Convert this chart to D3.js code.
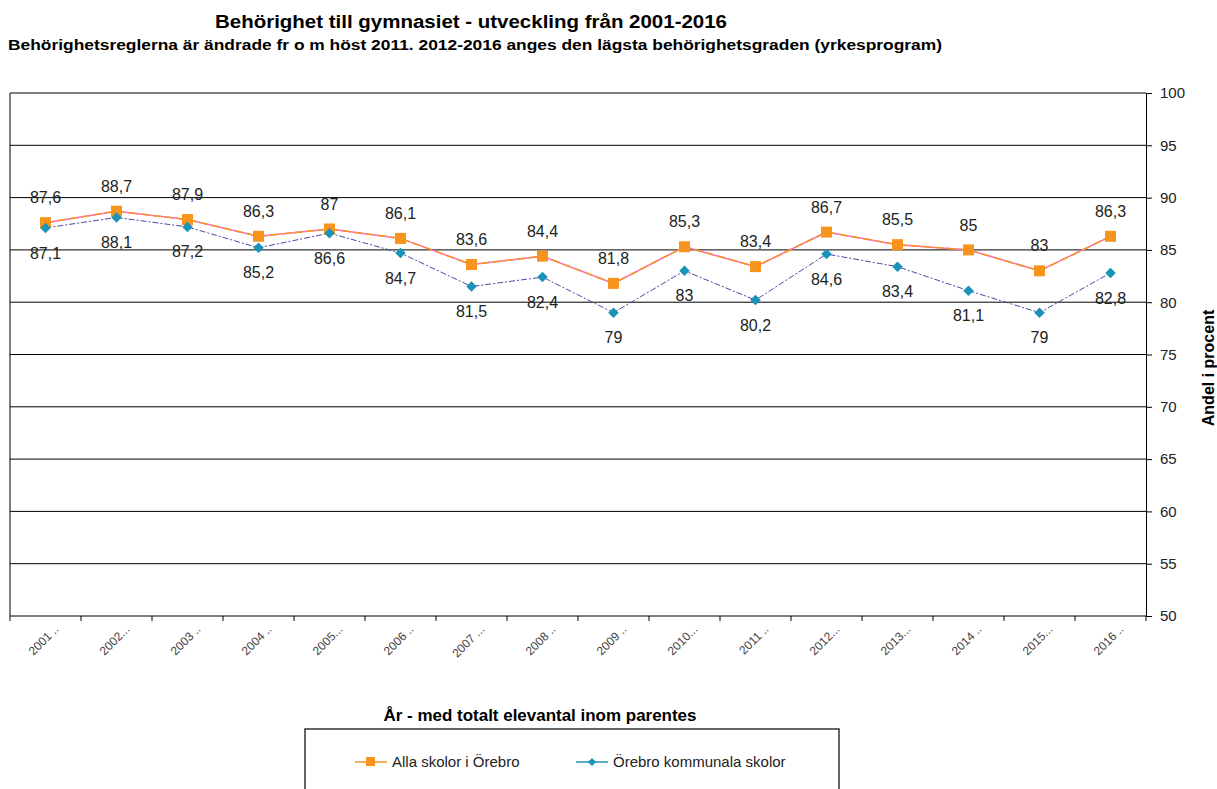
<!DOCTYPE html>
<html>
<head>
<meta charset="utf-8">
<script src="https://cdn.jsdelivr.net/npm/d3@7"></script>
<style>
  body { margin: 0; background: #fff; }
  svg { display: block; font-family: "Liberation Sans", Arial, sans-serif; }
</style>
</head>
<body>
<svg id="chart" width="1217" height="789"></svg>
<script>
// chart data
const years = ["2001", "2002", "2003", "2004", "2005", "2006", "2007", "2008",
  "2009", "2010", "2011", "2012", "2013", "2014", "2015", "2016"];
const yearLabels = ["2001 ..", "2002...", "2003 ..", "2004 ..", "2005...", "2006 ..",
  "2007 ...", "2008 ..", "2009 ..", "2010...", "2011 ..", "2012...", "2013...",
  "2014 ..", "2015...", "2016 .."];
const allaSkolor = [87.6, 88.7, 87.9, 86.3, 87, 86.1, 83.6, 84.4, 81.8, 85.3, 83.4, 86.7, 85.5, 85, 83, 86.3];
const kommunala = [87.1, 88.1, 87.2, 85.2, 86.6, 84.7, 81.5, 82.4, 79, 83, 80.2, 84.6, 83.4, 81.1, 79, 82.8];
const yTicks = [50, 55, 60, 65, 70, 75, 80, 85, 90, 95, 100];

const svg = d3.select("#chart");
const plot = { left: 10, right: 1146, top: 93, bottom: 616 };

const x = d3.scaleBand().domain(years).range([plot.left, plot.right]);
const y = d3.scaleLinear().domain([50, 100]).range([plot.bottom, plot.top]);

const orange = "#f7941d";
const blue = "#1b93b8";

// titles
svg.append("text")
  .attr("x", 471).attr("y", 28)
  .attr("text-anchor", "middle")
  .style("font-size", "18px").style("font-weight", "bold")
  .attr("textLength", 512).attr("lengthAdjust", "spacingAndGlyphs")
  .text("Behörighet till gymnasiet - utveckling från 2001-2016");
svg.append("text")
  .attr("x", 8).attr("y", 50)
  .style("font-size", "14px").style("font-weight", "bold")
  .attr("textLength", 934).attr("lengthAdjust", "spacingAndGlyphs")
  .text("Behörighetsreglerna är ändrade fr o m höst 2011. 2012-2016 anges den lägsta behörighetsgraden (yrkesprogram)");

// gridlines
svg.append("g")
  .selectAll("line")
  .data(yTicks)
  .join("line")
  .attr("x1", plot.left).attr("x2", plot.right)
  .attr("y1", d => y(d)).attr("y2", d => y(d))
  .attr("stroke", "#000").attr("stroke-width", 1);

// left border of plot
svg.append("line")
  .attr("x1", plot.left).attr("x2", plot.left)
  .attr("y1", plot.top).attr("y2", plot.bottom)
  .attr("stroke", "#000");

// right value axis
const yAxis = svg.append("g")
  .attr("transform", `translate(${plot.right},0)`)
  .call(d3.axisRight(y).tickValues(yTicks).tickSize(6).tickPadding(8));
yAxis.select(".domain").attr("stroke", "#000");
yAxis.selectAll(".tick line").attr("stroke", "#000");
yAxis.selectAll(".tick text")
  .style("font-size", "15px").style("font-family", "Liberation Sans, Arial, sans-serif")
  .attr("fill", "#222");

svg.append("text")
  .attr("transform", `translate(1214, 368) rotate(-90)`)
  .attr("text-anchor", "middle")
  .style("font-size", "16px").style("font-weight", "bold")
  .text("Andel i procent");

// bottom category axis
const tickPos = years.map(d => x(d)).concat([plot.right]);
svg.append("g")
  .selectAll("line")
  .data(tickPos)
  .join("line")
  .attr("x1", d => d).attr("x2", d => d)
  .attr("y1", plot.bottom).attr("y2", plot.bottom + 5)
  .attr("stroke", "#000");

svg.append("g")
  .selectAll("text")
  .data(years)
  .join("text")
  .attr("transform", (d) => `translate(${x(d) + x.bandwidth() / 2 + 8}, ${plot.bottom + 8}) rotate(-45)`)
  .attr("text-anchor", "end")
  .attr("dy", "0.7em")
  .style("font-size", "12px")
  .attr("fill", "#444")
  .text((d, i) => yearLabels[i]);

svg.append("text")
  .attr("x", 540).attr("y", 721)
  .attr("text-anchor", "middle")
  .style("font-size", "16px").style("font-weight", "bold")
  .attr("textLength", 313).attr("lengthAdjust", "spacingAndGlyphs")
  .text("År - med totalt elevantal inom parentes");

// lines
const cx = d => x(d) + x.bandwidth() / 2;
const lineGen = vals => d3.line().x((d, i) => cx(years[i])).y(d => y(d))(vals);

svg.append("path")
  .attr("d", lineGen(allaSkolor))
  .attr("fill", "none").attr("stroke", "#ff66dd").attr("stroke-width", 1.5);
svg.append("path")
  .attr("d", lineGen(allaSkolor))
  .attr("fill", "none").attr("stroke", orange).attr("stroke-width", 1.5)
  .attr("stroke-dasharray", "9,3");

svg.append("path")
  .attr("d", lineGen(kommunala))
  .attr("fill", "none").attr("stroke", "#4a4aa8").attr("stroke-width", 1)
  .attr("stroke-dasharray", "6,2,2,2");

// markers
svg.append("g")
  .selectAll("rect")
  .data(allaSkolor)
  .join("rect")
  .attr("x", (d, i) => cx(years[i]) - 5.5)
  .attr("y", d => y(d) - 5.5)
  .attr("width", 11).attr("height", 11)
  .attr("fill", orange);

const diamond = d3.symbol().type(d3.symbolDiamond2).size(70);
svg.append("g")
  .selectAll("path")
  .data(kommunala)
  .join("path")
  .attr("d", diamond)
  .attr("transform", (d, i) => `translate(${cx(years[i])}, ${y(d)})`)
  .attr("fill", blue);

// data labels
const fmt = v => String(v).replace(".", ",");
svg.append("g")
  .selectAll("text")
  .data(allaSkolor)
  .join("text")
  .attr("x", (d, i) => cx(years[i]))
  .attr("y", d => y(d) - 25)
  .attr("dy", "0.35em")
  .attr("text-anchor", "middle")
  .style("font-size", "16px").attr("fill", "#222")
  .text(fmt);

svg.append("g")
  .selectAll("text")
  .data(kommunala)
  .join("text")
  .attr("x", (d, i) => cx(years[i]))
  .attr("y", d => y(d) + 25)
  .attr("dy", "0.35em")
  .attr("text-anchor", "middle")
  .style("font-size", "16px").attr("fill", "#222")
  .text(fmt);

// legend
const legend = svg.append("g");
legend.append("rect")
  .attr("x", 305).attr("y", 729)
  .attr("width", 534).attr("height", 80)
  .attr("fill", "none").attr("stroke", "#333").attr("stroke-width", 1.5);

const legendItems = [
  { name: "Alla skolor i Örebro", color: orange, marker: "square", x: 355 },
  { name: "Örebro kommunala skolor", color: blue, marker: "diamond", x: 576 },
];
legendItems.forEach(item => {
  const g = legend.append("g").attr("transform", `translate(${item.x}, 762)`);
  g.append("line").attr("x1", 0).attr("x2", 32).attr("stroke", item.color).attr("stroke-width", 1.5);
  if (item.marker === "square") {
    g.append("rect").attr("x", 11).attr("y", -5).attr("width", 9).attr("height", 9).attr("fill", item.color);
  } else {
    g.append("path").attr("d", d3.symbol().type(d3.symbolDiamond2).size(40)).attr("transform", "translate(16,0)").attr("fill", item.color);
  }
  g.append("text").attr("x", 37).attr("dy", "0.35em")
    .style("font-size", "15px").attr("fill", "#222")
    .text(item.name);
});
</script>
</body>
</html>
